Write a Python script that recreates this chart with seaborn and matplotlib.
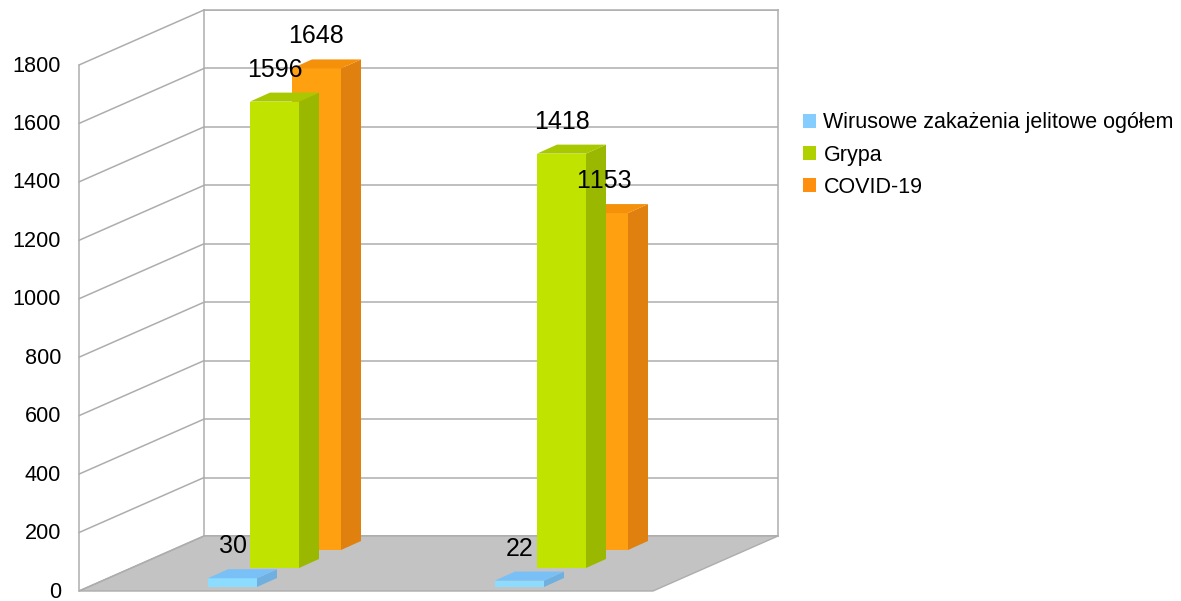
import matplotlib
matplotlib.use('Agg')
import matplotlib.pyplot as plt
from matplotlib.patches import Patch, Polygon
from matplotlib.transforms import ScaledTranslation
import seaborn as sns
import pandas as pd
import numpy as np

sns.set_theme(style='white')
plt.rcParams['font.family'] = ['Liberation Sans', 'DejaVu Sans']
plt.rcParams['text.kerning_factor'] = 6

# dane
okresy = ['okres 1', 'okres 2']
jelitowe = [30, 22]
grypa = [1596, 1418]
covid = [1648, 1153]
series_names = ['Wirusowe zakażenia jelitowe ogółem', 'Grypa', 'COVID-19']
y_ticks = [0, 200, 400, 600, 800, 1000, 1200, 1400, 1600, 1800]

W, H = 1181, 601
GRID = '#adadad'
FLOOR = '#c3c3c3'

# geometria w pikselach
FRONT_LEFT, FRONT_BOTTOM = 79, 591
WALL_W, WALL_H = 574, 526
WALL_DX, WALL_DY = 125, 55
BAR_W, BAR_DX, BAR_DY = 49, 20, 9

PX_X = 2 / WALL_W  # jednostki osi x na piksel
PX_Y = 1800 / WALL_H  # jednostki osi y na piksel


def add_plane(fig, shift_x, shift_y, zorder):
    ''' osie przesuniete w glab wykresu o podana liczbe pikseli '''
    rect = [(FRONT_LEFT + shift_x) / W, (H - FRONT_BOTTOM + shift_y) / H, WALL_W / W, WALL_H / H]
    ax = fig.add_axes(rect, zorder=zorder)
    ax.set_xlim(-0.5, 1.5)
    ax.set_ylim(0, 1800)
    ax.patch.set_visible(False)
    return ax


def draw_series(fig, values, shift_x, shift_y, zorder, front, side, top):
    ax = add_plane(fig, shift_x, shift_y, zorder)
    df = pd.DataFrame({'okres': okresy, 'n': values})
    sns.barplot(data=df, x='okres', y='n', color=front, saturation=1, width=BAR_W * PX_X,
                edgecolor='none', linewidth=0, ax=ax)
    ax.set_xlim(-0.5, 1.5)
    ax.set_ylim(0, 1800)
    ax.set_axis_off()
    dx, dy = BAR_DX * PX_X, BAR_DY * PX_Y
    for bar, v in zip(ax.patches, values):
        x0, x1 = bar.get_x(), bar.get_x() + bar.get_width()
        ax.add_patch(Polygon([(x1, 0), (x1 + dx, dy), (x1 + dx, v + dy), (x1, v)],
                             facecolor=side, edgecolor='none', clip_on=False))
        ax.add_patch(Polygon([(x0, v), (x0 + dx, v + dy), (x1 + dx, v + dy), (x1, v)],
                             facecolor=top, edgecolor='none', clip_on=False))
        # etykieta nad slupkiem
        trans = ax.transData + ScaledTranslation(0, 32 / fig.dpi, fig.dpi_scale_trans)
        fig.text((x0 + x1) / 2, v, str(v), transform=trans, fontsize=18, color='black',
                 ha='center', va='center', zorder=10)


fig = plt.figure(figsize=(W / 100, H / 100), dpi=100)

# tylna sciana, podloga i lewa sciana
ax_back = add_plane(fig, WALL_DX, WALL_DY, 0)
ax_back.set_yticks(y_ticks)
ax_back.set_xticks([])
ax_back.set_yticklabels([])
ax_back.grid(axis='y', color=GRID, linewidth=1.1)
ax_back.tick_params(length=0)
for s in ax_back.spines.values():
    s.set_color(GRID)
    s.set_linewidth(1.1)

dx_wall, dy_wall = WALL_DX * PX_X, WALL_DY * PX_Y
ax_back.add_patch(Polygon([(-0.5, 0), (1.5, 0), (1.5 - dx_wall, -dy_wall), (-0.5 - dx_wall, -dy_wall)],
                          facecolor=FLOOR, edgecolor=GRID, linewidth=1, clip_on=False, zorder=3))
for v in y_ticks:
    ax_back.plot([-0.5 - dx_wall, -0.5], [v - dy_wall, v], color=GRID, linewidth=1.1, clip_on=False, zorder=4)
ax_back.plot([-0.5 - dx_wall, -0.5 - dx_wall], [-dy_wall, 1800 - dy_wall], color=GRID, linewidth=1.1,
             clip_on=False, zorder=4)

# slupki, od najdalszej serii
draw_series(fig, covid, 94, 41, 1, '#ffa010', '#e0800e', '#f5900a')
draw_series(fig, grypa, 52, 23, 2, '#c0e400', '#9ab800', '#a8c800')
draw_series(fig, jelitowe, 10, 4, 3, '#8cdcff', '#70b0e0', '#78c0f5')

# os y na przedniej plaszczyznie
ax_front = add_plane(fig, 0, 0, 4)
ax_front.set_xticks([])
ax_front.set_yticks(y_ticks)
ax_front.tick_params(axis='y', length=0, pad=13, labelsize=15.6, labelcolor='black')
sns.despine(ax=ax_front, left=True, bottom=True)
# etykiety troche wyzej, zeby "0" nie dotykalo krawedzi
for label in ax_front.get_yticklabels():
    label.set_transform(label.get_transform() + ScaledTranslation(0, 1.5 / fig.dpi, fig.dpi_scale_trans))

# legenda
handles = [Patch(facecolor=c, edgecolor='none') for c in ['#85ccff', '#b0d000', '#ff8f0f']]
leg = fig.legend(handles, series_names, loc='upper left', bbox_to_anchor=(797 / W, (H - 106) / H),
                 frameon=False, fontsize=15.5, handlelength=0.6, handleheight=0.6, handletextpad=0.33,
                 labelspacing=0.52, borderpad=0.3, borderaxespad=0, labelcolor='black')

fig.savefig('out.png', dpi=100)
plt.close(fig)
